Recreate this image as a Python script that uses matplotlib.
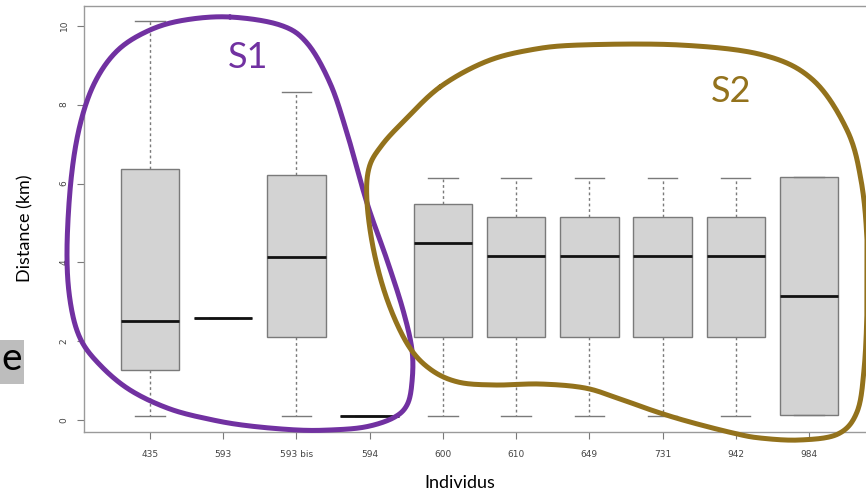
import matplotlib.pyplot as plt
import numpy as np
from matplotlib.patches import Rectangle

# ── data ──────────────────────────────────────────────────────────────
individus = ['435', '593', '593 bis', '594', '600', '610', '649', '731', '942', '984']
whis_lo = [0.1, 2.6, 0.1, 0.1, 0.1, 0.1, 0.1, 0.1, 0.1, 0.13]
q1 = [1.27, 2.6, 2.1, 0.1, 2.12, 2.1, 2.1, 2.1, 2.1, 0.13]
med = [2.51, 2.6, 4.13, 0.1, 4.49, 4.16, 4.16, 4.16, 4.16, 3.14]
q3 = [6.37, 2.6, 6.21, 0.1, 5.47, 5.15, 5.15, 5.15, 5.15, 6.16]
whis_hi = [10.13, 2.6, 8.33, 0.1, 6.15, 6.15, 6.15, 6.15, 6.15, 6.16]
y_ticks = [0, 2, 4, 6, 8, 10]

# hand-drawn group outlines, in pixels of the 866x496 picture
s1_outline = [(230, 17), (280, 25), (307, 43), (330, 83), (347, 133), (367, 203),
              (387, 260), (403, 310), (412, 350), (412, 382), (407, 405), (393, 418),
              (365, 427), (330, 430), (297, 430), (250, 426), (213, 420), (170, 409),
              (130, 390), (100, 365), (80, 338), (70, 300), (67, 250), (71, 180),
              (80, 125), (95, 82), (118, 50), (150, 30), (185, 20)]
s2_outline = [(440, 87), (485, 62), (530, 50), (580, 45), (680, 45), (763, 55),
              (813, 80), (847, 130), (861, 180), (867, 240), (867, 310), (864, 370),
              (857, 412), (838, 434), (800, 440), (760, 438), (733, 433), (690, 422),
              (657, 412), (620, 399), (585, 388), (540, 384), (495, 385), (458, 382),
              (430, 369), (408, 345), (388, 302), (374, 252), (367, 202), (369, 168),
              (382, 145), (405, 120)]

PURPLE = '#7131A1'
OLIVE = '#93721C'
GREY_LINE = '#7a7a7a'
W, H = 866, 496


def closed_spline(pts, n=24):
    p = np.asarray(pts, float)
    P = np.vstack([p[-1], p, p[0], p[1]])
    t = np.linspace(0, 1, n, endpoint=False)[:, None]
    segs = []
    for i in range(1, len(p) + 1):
        p0, p1, p2, p3 = P[i - 1], P[i], P[i + 1], P[i + 2]
        segs.append(0.5 * (2 * p1 + (-p0 + p2) * t
                           + (2 * p0 - 5 * p1 + 4 * p2 - p3) * t ** 2
                           + (-p0 + 3 * p1 - 3 * p2 + p3) * t ** 3))
    out = np.vstack(segs)
    return np.vstack([out, out[:1]])


fig = plt.figure(figsize=(W / 100, H / 100), dpi=100)
fig.patch.set_facecolor('white')

# axes: R boxplot limits, right side cropped by the picture
ax = fig.add_axes([84 / W, 64 / H, 791 / W, 426 / H])
stats = [dict(label=lab, whislo=a, q1=b, med=c, q3=d, whishi=e, fliers=[])
         for lab, a, b, c, d, e in zip(individus, whis_lo, q1, med, q3, whis_hi)]
ax.bxp(stats, positions=range(1, len(individus) + 1), widths=0.8, capwidths=0.4,
       patch_artist=True, showfliers=False,
       boxprops=dict(facecolor='#d3d3d3', edgecolor=GREY_LINE, linewidth=1.0),
       whiskerprops=dict(color=GREY_LINE, linestyle=(0, (2, 2)), linewidth=1.0),
       capprops=dict(color=GREY_LINE, linewidth=1.0),
       medianprops=dict(color='#111111', linewidth=2.0))
ax.set_xlim(0.1, 10.9)
ax.set_ylim(-0.3, 10.5)
ax.set_yticks(y_ticks)
ax.set_yticklabels([str(v) for v in y_ticks], rotation=90, va='center',
                   fontsize=6.5, color='#444444')
ax.tick_params(axis='x', labelsize=6.5, labelcolor='#444444', color=GREY_LINE,
               length=5, pad=8)
ax.tick_params(axis='y', color=GREY_LINE, length=5, pad=6)
for sp in ax.spines.values():
    sp.set_color('#9a9a9a')
    sp.set_linewidth(1.0)

# overlay in picture pixels for the slide annotations
ov = fig.add_axes([0, 0, 1, 1])
ov.set_xlim(0, W)
ov.set_ylim(H, 0)
ov.axis('off')

for pts, col in [(s1_outline, PURPLE), (s2_outline, OLIVE)]:
    c = closed_spline(pts)
    ov.plot(c[:, 0], c[:, 1], color=col, linewidth=3.6, solid_capstyle='round')

ov.text(248, 58, 'S1', color=PURPLE, fontsize=26, family='Lato',
        ha='center', va='center')
ov.text(731, 92, 'S2', color=OLIVE, fontsize=26, family='Lato',
        ha='center', va='center')

ov.add_patch(Rectangle((0, 340), 24, 44, facecolor='#bdbdbd', edgecolor='none'))
ov.text(12, 359, 'e', fontsize=28, family='Lato', ha='center', va='center',
        color='black')

ov.text(25, 228, 'Distance (km)', rotation=90, fontsize=13, family='Lato',
        ha='center', va='center', color='black')
ov.text(460, 483, 'Individus', fontsize=13, family='Lato',
        ha='center', va='center', color='black')

fig.savefig('out.png', dpi=100, facecolor='white')
plt.close(fig)
